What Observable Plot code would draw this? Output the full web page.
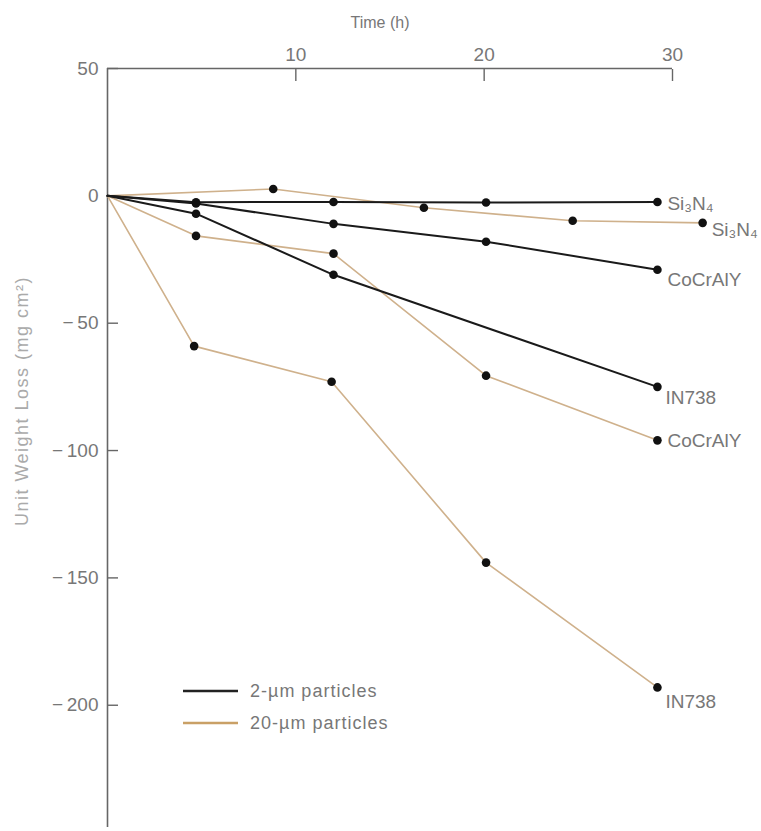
<!DOCTYPE html>
<html><head><meta charset="utf-8">
<script src="https://cdn.jsdelivr.net/npm/d3@7"></script>
<script src="https://cdn.jsdelivr.net/npm/@observablehq/plot@0.6"></script>
<style>body{margin:0;background:#fff} #chart{position:relative;width:761px;height:831px}</style>
</head><body><div id="chart"></div>
<script>
// ---- data ----
const timeTicks = [10, 20, 30];
const lossTicks = [50, 0, -50, -100, -150, -200];
const materials = ["Si\u2083N\u2084", "CoCrAlY", "IN738"];
const sizes = ["2-\u00b5m particles", "20-\u00b5m particles"];
// [time (h), unit weight loss (mg cm^-2)]
const si3n4_2um   = [[0,0],[4.7,-2.5],[12,-2.4],[20.1,-2.6],[29.2,-2.4]];
const cocraly_2um = [[0,0],[4.7,-3],[12,-11],[20.1,-18],[29.2,-29]];
const in738_2um   = [[0,0],[4.7,-7],[12,-31],[29.2,-75]];
const si3n4_20um   = [[0,0],[8.8,2.7],[16.8,-4.7],[24.7,-9.8],[31.6,-10.6]];
const cocraly_20um = [[0,0],[4.7,-15.7],[12,-22.7],[20.1,-70.6],[29.2,-96]];
const in738_20um   = [[0,0],[4.6,-59],[11.9,-73],[20.1,-144],[29.2,-193]];

const seriesList = [
  {size: sizes[1], material: materials[0], pts: si3n4_20um},
  {size: sizes[1], material: materials[1], pts: cocraly_20um},
  {size: sizes[1], material: materials[2], pts: in738_20um},
  {size: sizes[0], material: materials[0], pts: si3n4_2um},
  {size: sizes[0], material: materials[1], pts: cocraly_2um},
  {size: sizes[0], material: materials[2], pts: in738_2um}
];
const rows = seriesList.flatMap((s, si) => s.pts.map(([t, v], i) => ({key: si, size: s.size, material: s.material, t, v, i})));
const ends = seriesList.map((s, si) => ({key: si, size: s.size, material: s.material, t: s.pts[s.pts.length-1][0], v: s.pts[s.pts.length-1][1]}));

// ---- styles ----
const colorOf = {[sizes[0]]: "#1a1a1a", [sizes[1]]: "#cfb18c"};
const widthOf = {[sizes[0]]: 2, [sizes[1]]: 1.6};
const labelOffset = [[9, 7], [10, 1], [8, 14], [10, 2], [10, 10], [8, 11]]; // [dx, dy] per series
const font = "'Liberation Sans', Arial, sans-serif";
const fmt = d => d < 0 ? "\u2212\u2009" + (-d) : String(d);

const chart = Plot.plot({
  width: 761, height: 831,
  marginLeft: 107, marginRight: 89, marginTop: 68, marginBottom: 4,
  style: {fontFamily: font, background: "#fff", overflow: "visible"},
  x: {domain: [0, 30]},
  y: {domain: [-248, 50]},
  marks: [
    Plot.ruleX([0], {stroke: "#666", strokeWidth: 1.6}),
    Plot.ruleY([50], {stroke: "#666", strokeWidth: 1.6}),
    Plot.axisY({ticks: lossTicks, tickSize: 11, dx: 11, text: null, label: null, stroke: "#666", strokeWidth: 1.4}),
    Plot.axisY({ticks: lossTicks, tickSize: 0, tickPadding: 9, tickFormat: fmt, label: null, fontSize: 19, fill: "#777"}),
    Plot.axisX({anchor: "top", ticks: timeTicks, tickSize: 12, dy: 12, text: null, label: null, stroke: "#666", strokeWidth: 1.4}),
    Plot.axisX({anchor: "top", ticks: timeTicks, tickSize: 0, tickPadding: 8, label: null, fontSize: 19, fill: "#777"}),
    ...seriesList.map((s, si) => Plot.line(rows.filter(r => r.key === si), {x: "t", y: "v", stroke: colorOf[s.size], strokeWidth: widthOf[s.size]})),
    Plot.dot(rows.filter(r => r.i > 0), {x: "t", y: "v", r: 4.3, fill: "#111"}),
    ...ends.map((e, si) => Plot.text([e], {x: "t", y: "v", text: "material", textAnchor: "start", dx: labelOffset[si][0], dy: labelOffset[si][1], fontSize: 19, fill: "#777", letterSpacing: "1px"}))
  ]
});
document.getElementById("chart").append(chart);

// titles and legend
const svg = d3.select(chart);
svg.append("text").attr("x", 380).attr("y", 28).attr("text-anchor", "middle")
  .attr("font-size", 16).attr("fill", "#777").attr("font-family", font).text("Time (h)");
svg.append("text").attr("transform", "translate(28,401) rotate(-90)").attr("text-anchor", "middle")
  .attr("font-size", 18).attr("fill", "#aaa").attr("font-family", font).attr("letter-spacing", "1.5px")
  .text("Unit Weight Loss (mg cm\u00b2)");
const lg = svg.append("g").attr("font-family", font).attr("font-size", 18).attr("fill", "#777").attr("text-anchor", "start");
sizes.forEach((s, i) => {
  const y = 691 + i * 32;
  lg.append("line").attr("x1", 183).attr("x2", 238).attr("y1", y).attr("y2", y)
    .attr("stroke", i === 0 ? "#222" : "#c9a066").attr("stroke-width", 2.5);
  lg.append("text").attr("x", 250).attr("y", y).attr("dy", "0.35em").attr("letter-spacing", "1px").text(s);
});
</script></body></html>
